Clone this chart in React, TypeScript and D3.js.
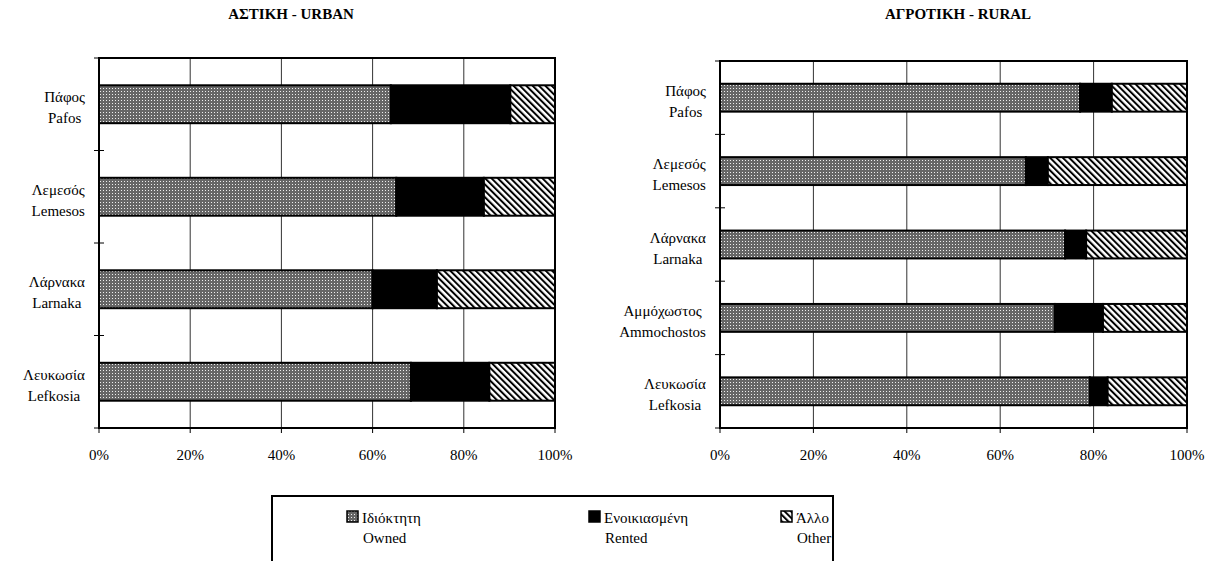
import React, { useEffect, useRef } from "react";
import * as d3 from "d3";

// top to bottom, as drawn
const urbanGreek = ["Πάφος", "Λεμεσός", "Λάρνακα", "Λευκωσία"];
const urbanLatin = ["Pafos", "Lemesos", "Larnaka", "Lefkosia"];
const urbanOwned = [64, 65.2, 60, 68.4];
const urbanRented = [26.2, 19.2, 14.1, 17.2];
const urbanOther = [9.8, 15.6, 25.9, 14.4];

const ruralGreek = ["Πάφος", "Λεμεσός", "Λάρνακα", "Αμμόχωστος", "Λευκωσία"];
const ruralLatin = ["Pafos", "Lemesos", "Larnaka", "Ammochostos", "Lefkosia"];
const ruralOwned = [77.1, 65.5, 73.9, 71.7, 79.2];
const ruralRented = [6.8, 4.7, 4.5, 10.3, 3.8];
const ruralOther = [16.1, 29.8, 21.6, 18, 17];

const xTicks = [0, 20, 40, 60, 80, 100];
const legendGreek = ["Ιδιόκτητη", "Ενοικιασμένη", "Άλλο"];
const legendLatin = ["Owned", "Rented", "Other"];
const keys = ["owned", "rented", "other"];

const FONT = '"Liberation Serif", "Times New Roman", "DejaVu Serif", serif';
const fills: Record<string, string> = {
  owned: "url(#pat-owned)",
  rented: "#000",
  other: "url(#pat-other)",
};

type Panel = {
  title: string;
  titleX: number;
  greek: string[];
  latin: string[];
  owned: number[];
  rented: number[];
  other: number[];
  left: number;
  right: number;
  top: number;
  bottom: number;
  padding: number;
};

function drawPanel(svg: any, p: Panel) {
  const rows = p.greek.map((g, i) => ({
    id: g + "|" + p.latin[i],
    owned: p.owned[i],
    rented: p.rented[i],
    other: p.other[i],
  }));

  const x = d3.scaleLinear().domain([0, 100]).range([p.left, p.right]);
  const y = d3
    .scaleBand()
    .domain(rows.map((d) => d.id))
    .range([p.top, p.bottom])
    .paddingInner(p.padding)
    .paddingOuter(p.padding / 2);

  const g = svg.append("g").attr("font-family", FONT);

  g.append("text")
    .attr("x", p.titleX)
    .attr("y", 19)
    .attr("text-anchor", "middle")
    .attr("font-weight", "bold")
    .attr("font-size", 15)
    .text(p.title);

  // gridlines
  g.selectAll(".grid")
    .data(xTicks.slice(1, -1))
    .enter()
    .append("line")
    .attr("x1", (d) => x(d))
    .attr("x2", (d) => x(d))
    .attr("y1", p.top)
    .attr("y2", p.bottom)
    .attr("stroke", "#333")
    .attr("stroke-width", 1);

  const stack = d3.stack().keys(keys)(rows as any);

  g.selectAll(".series")
    .data(stack)
    .enter()
    .append("g")
    .attr("fill", (s: any) => fills[s.key])
    .selectAll("rect")
    .data((s: any) => s)
    .enter()
    .append("rect")
    .attr("x", (d: any) => x(d[0]))
    .attr("width", (d: any) => x(d[1]) - x(d[0]))
    .attr("y", (d: any) => y(d.data.id))
    .attr("height", y.bandwidth())
    .attr("stroke", "#000")
    .attr("stroke-width", 2);

  // frame
  g.append("rect")
    .attr("x", p.left)
    .attr("y", p.top)
    .attr("width", p.right - p.left)
    .attr("height", p.bottom - p.top)
    .attr("fill", "none")
    .attr("stroke", "#000")
    .attr("stroke-width", 2);

  // category tick marks on the left axis
  const step = y.step();
  const yTicks = d3.range(rows.length + 1).map((i) => p.top + i * step);
  g.selectAll(".ytick")
    .data(yTicks)
    .enter()
    .append("line")
    .attr("x1", p.left - 5)
    .attr("x2", p.left + 5)
    .attr("y1", (d) => d)
    .attr("y2", (d) => d)
    .attr("stroke", "#000")
    .attr("stroke-width", 1);

  g.selectAll(".xtick")
    .data(xTicks)
    .enter()
    .append("line")
    .attr("x1", (d) => x(d))
    .attr("x2", (d) => x(d))
    .attr("y1", p.bottom)
    .attr("y2", p.bottom + 5)
    .attr("stroke", "#000")
    .attr("stroke-width", 1);

  g.selectAll(".xlabel")
    .data(xTicks)
    .enter()
    .append("text")
    .attr("x", (d) => x(d))
    .attr("y", p.bottom + 32)
    .attr("text-anchor", "middle")
    .attr("font-size", 15)
    .text((d) => d + "%");

  // two-line category labels, lines centred on each other, block right-aligned
  rows.forEach((r, i) => {
    const cy = (y(r.id) as number) + y.bandwidth() / 2;
    const lg = g.append("g");
    const t = lg.append("text").attr("text-anchor", "middle").attr("font-size", 15);
    t.append("tspan").attr("x", 0).attr("y", -2).text(p.greek[i]);
    t.append("tspan").attr("x", 0).attr("y", 19).text(p.latin[i]);
    const w = (t.node() as SVGTextElement).getBBox().width;
    lg.attr("transform", `translate(${p.left - 14 - w / 2},${cy})`);
  });
}

const App = () => {
  const svgRef = useRef<SVGSVGElement>(null);

  useEffect(() => {
    const svg = d3.select(svgRef.current);
    svg.selectAll("*").remove();

    const defs = svg.append("defs");
    const po = defs
      .append("pattern")
      .attr("id", "pat-owned")
      .attr("patternUnits", "userSpaceOnUse")
      .attr("width", 3)
      .attr("height", 3);
    po.append("rect").attr("width", 3).attr("height", 3).attr("fill", "#666");
    po.append("rect")
      .attr("x", 1)
      .attr("y", 1)
      .attr("width", 1)
      .attr("height", 1)
      .attr("fill", "#eee")
      .attr("shape-rendering", "crispEdges");

    const pt = defs
      .append("pattern")
      .attr("id", "pat-other")
      .attr("patternUnits", "userSpaceOnUse")
      .attr("width", 4.5)
      .attr("height", 4.5)
      .attr("patternTransform", "rotate(-45)");
    pt.append("rect").attr("width", 4.5).attr("height", 4.5).attr("fill", "#fff");
    pt.append("rect").attr("width", 2).attr("height", 4.5).attr("fill", "#000");

    drawPanel(svg, {
      title: "ΑΣΤΙΚΗ - URBAN",
      titleX: 291,
      greek: urbanGreek,
      latin: urbanLatin,
      owned: urbanOwned,
      rented: urbanRented,
      other: urbanOther,
      left: 99,
      right: 555,
      top: 58,
      bottom: 428,
      padding: 0.59,
    });

    drawPanel(svg, {
      title: "ΑΓΡΟΤΙΚΗ - RURAL",
      titleX: 958,
      greek: ruralGreek,
      latin: ruralLatin,
      owned: ruralOwned,
      rented: ruralRented,
      other: ruralOther,
      left: 720,
      right: 1187,
      top: 61,
      bottom: 428,
      padding: 0.62,
    });

    // legend
    svg
      .append("rect")
      .attr("x", 272)
      .attr("y", 496)
      .attr("width", 561)
      .attr("height", 90)
      .attr("fill", "#fff")
      .attr("stroke", "#000")
      .attr("stroke-width", 2);

    const legendX = [347, 589, 781];
    const items = svg
      .selectAll(".legend")
      .data(keys)
      .enter()
      .append("g")
      .attr("font-family", FONT)
      .attr("font-size", 15)
      .attr("transform", (d, i) => `translate(${legendX[i]},0)`);

    items
      .append("rect")
      .attr("x", 0)
      .attr("y", 511)
      .attr("width", 11)
      .attr("height", 11)
      .attr("fill", (d) => fills[d])
      .attr("stroke", "#000")
      .attr("stroke-width", 1.5);

    items
      .append("text")
      .attr("x", 15)
      .attr("y", 523)
      .text((d, i) => legendGreek[i]);

    items
      .append("text")
      .attr("x", 16)
      .attr("y", 543)
      .text((d, i) => legendLatin[i]);
  }, []);

  return (
    <div style={{ position: "absolute", left: 0, top: 0 }}>
      <svg ref={svgRef} width={1216} height={561} style={{ display: "block", background: "#fff" }}></svg>
    </div>
  );
};

export default App;
